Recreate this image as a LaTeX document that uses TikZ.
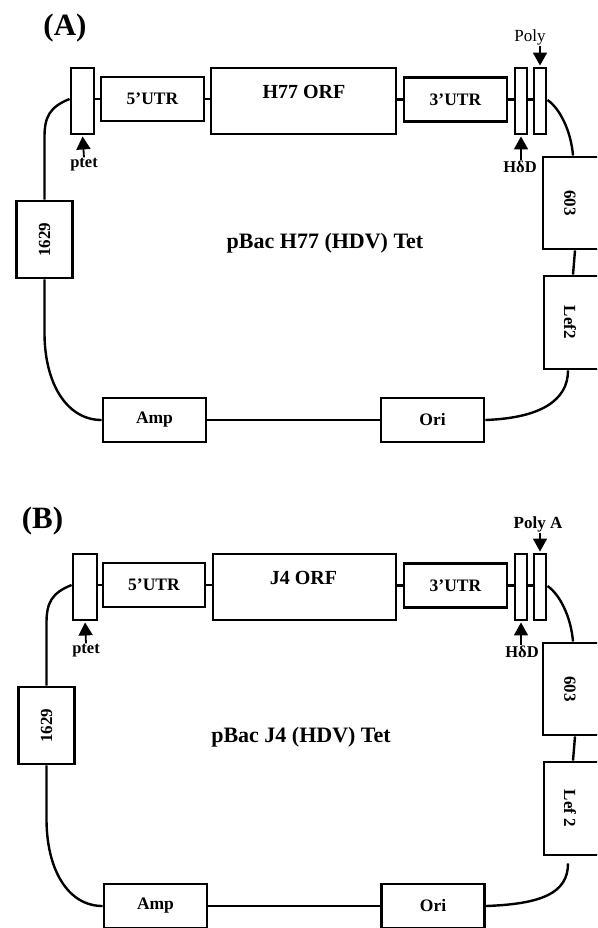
\documentclass[tikz,border=0pt]{standalone}
\usepackage{fontspec}
\setmainfont{Liberation Serif}
\usetikzlibrary{arrows.meta,calc}
\begin{document}
\begin{tikzpicture}[x=1pt,y=-1pt,
  box/.style={draw, line width=2.9pt, inner sep=0pt, font=\bfseries\fontsize{17.5}{17.5}\selectfont},
  link/.style={line width=2.4pt},
  arr/.style={line width=1.8pt, shorten >=1pt, -{Triangle[width=14pt,length=13pt]}},
  lbl/.style={font=\bfseries\fontsize{16.5}{16.5}\selectfont, inner sep=1pt},
  big/.style={font=\bfseries\fontsize{31}{31}\selectfont, inner sep=0pt},
  ttl/.style={font=\bfseries\fontsize{22}{22}\selectfont, inner sep=0pt},
  orft/.style={font=\bfseries\fontsize{20}{20}\selectfont, inner sep=0pt},
  vtext/.style={font=\bfseries\fontsize{17}{17}\selectfont, inner sep=0pt},
]
\useasboundingbox (0,0) rectangle (597,928);
\clip (0,0) rectangle (597,928);

% ---------------- Panel A ----------------
\node[big] (labA) at (65,28.5) {(A)};
\node[box, minimum width=23, minimum height=66] (ptetA) at (82.5,101) {};
\node[box, minimum width=103, minimum height=44] (utr5A) at (152.5,99) {5’UTR};
\node[box, minimum width=185, minimum height=66] (orfA) at (303.5,101) {};
\node[orft] (orftA) at (304,92) {H77 ORF};
\node[box, minimum width=103, minimum height=44] (utr3A) at (455.5,99.5) {3’UTR};
\node[box, minimum width=12, minimum height=66] (hddA) at (521,101) {};
\node[box, minimum width=12, minimum height=66] (polyA) at (540,101) {};
\node[box, minimum width=56, minimum height=77] (c1629A) at (44.5,239.5) {};
\node[vtext, rotate=90] (t1629A) at (44.5,239.5) {1629};
\node[box, minimum width=103, minimum height=44] (ampA) at (154.5,420) {Amp};
\node[box, minimum width=103, minimum height=44] (oriA) at (432.5,420) {Ori};
\node[box, minimum width=57, minimum height=92] (c603A) at (571.5,203) {};
\node[vtext, rotate=-90] (t603A) at (570,203) {603};
\node[box, minimum width=56, minimum height=93] (lefA) at (572,322.5) {};
\node[vtext, rotate=-90] (tlefA) at (570,322.5) {Lef2};
\node[ttl] (titA) at (325,243) {pBac H77 (HDV) Tet};
\node[lbl] (ptetlA) at (84,165) {ptet};
\node[lbl] (hdlA) at (520,167) {HδD};
\node[font=\fontsize{17}{17}\selectfont, inner sep=1pt] (polylA) at (530,37) {Poly};

\draw[link] (ptetA.east |- utr5A.west) -- (utr5A.west);
\draw[link] (utr5A.east) -- (orfA.west |- utr5A.east);
\draw[link] (orfA.east |- utr3A.west) -- (utr3A.west);
\draw[link] (utr3A.east) -- (hddA.west |- utr3A.east);
\draw[link] (hddA.east |- utr3A.east) -- (polyA.west |- utr3A.east);

\coordinate (a1A) at (44.5,137);
\coordinate (a2A) at (44.5,333);
\draw[link] (ptetA.west |- utr5A.west) .. controls +(-20,8) and +(0,-20) .. (a1A) -- (c1629A.north);
\draw[link] (c1629A.south) -- (a2A) .. controls +(0,50) and +(-35,0) .. (ampA.west);
\draw[link] (ampA.east) -- (oriA.west);
\draw[link] (oriA.east) .. controls +(55,-2) and +(0,30) .. ([xshift=-4pt]lefA.south);
\draw[link] ([xshift=3.5pt]c603A.south) -- ([xshift=1pt]lefA.north);
\draw[link] ([yshift=1pt]polyA.east) .. controls +(12,8) and +(-2,-25) .. ([xshift=1.5pt]c603A.north);

\draw[arr] (ptetlA.north) -- (ptetA.south);
\draw[arr] (hdlA.north -| hddA.south) -- (hddA.south);
\draw[arr] (polyA.north |- polylA.south) -- (polyA.north);

% ---------------- Panel B ----------------
\node[big] (labB) at (42.5,521) {(B)};
\node[box, minimum width=24, minimum height=66] (ptetB) at (85,587) {};
\node[box, minimum width=102, minimum height=44] (utr5B) at (154,585) {5’UTR};
\node[box, minimum width=183, minimum height=66] (orfB) at (304.5,587) {};
\node[orft] (orftB) at (303.5,578) {J4 ORF};
\node[box, minimum width=103, minimum height=44] (utr3B) at (455.5,585.5) {3’UTR};
\node[box, minimum width=12, minimum height=66] (hddB) at (521,587) {};
\node[box, minimum width=12, minimum height=66] (polyB) at (540,587) {};
\node[box, minimum width=56, minimum height=77] (c1629B) at (46.5,725.5) {};
\node[vtext, rotate=90] (t1629B) at (46.5,725.5) {1629};
\node[box, minimum width=103, minimum height=44] (ampB) at (155.5,906) {Amp};
\node[box, minimum width=103, minimum height=44] (oriB) at (433,906) {Ori};
\node[box, minimum width=57, minimum height=92] (c603B) at (571.5,689) {};
\node[vtext, rotate=-90] (t603B) at (570,689) {603};
\node[box, minimum width=56, minimum height=93] (lefB) at (572,808.5) {};
\node[vtext, rotate=-90] (tlefB) at (570,808.5) {Lef 2};
\node[ttl] (titB) at (301,737) {pBac J4 (HDV) Tet};
\node[lbl] (ptetlB) at (86,651) {ptet};
\node[lbl] (hdlB) at (522,652) {HδD};
\node[font=\bfseries\fontsize{17}{17}\selectfont, inner sep=1pt] (polylB) at (538,524) {Poly A};

\draw[link] (ptetB.east |- utr5B.west) -- (utr5B.west);
\draw[link] (utr5B.east) -- (orfB.west |- utr5B.east);
\draw[link] (orfB.east |- utr3B.west) -- (utr3B.west);
\draw[link] (utr3B.east) -- (hddB.west |- utr3B.east);
\draw[link] (hddB.east |- utr3B.east) -- (polyB.west |- utr3B.east);

\coordinate (a1B) at (46.5,623);
\coordinate (a2B) at (46.5,819);
\draw[link] (ptetB.west |- utr5B.west) .. controls +(-20,8) and +(0,-20) .. (a1B) -- (c1629B.north);
\draw[link] (c1629B.south) -- (a2B) .. controls +(0,50) and +(-35,0) .. (ampB.west);
\draw[link] (ampB.east) -- (oriB.west);
\draw[link] (oriB.east) .. controls +(55,-2) and +(0,30) .. ([xshift=-4pt,yshift=-7pt]lefB.south);
\draw[link] ([xshift=3.5pt]c603B.south) -- ([xshift=1pt]lefB.north);
\draw[link] ([yshift=1pt]polyB.east) .. controls +(12,8) and +(-2,-25) .. ([xshift=1.5pt]c603B.north);

\draw[arr] (ptetlB.north) -- (ptetB.south);
\draw[arr] (hdlB.north -| hddB.south) -- (hddB.south);
\draw[arr] (polyB.north |- polylB.south) -- (polyB.north);
\end{tikzpicture}
\end{document}
